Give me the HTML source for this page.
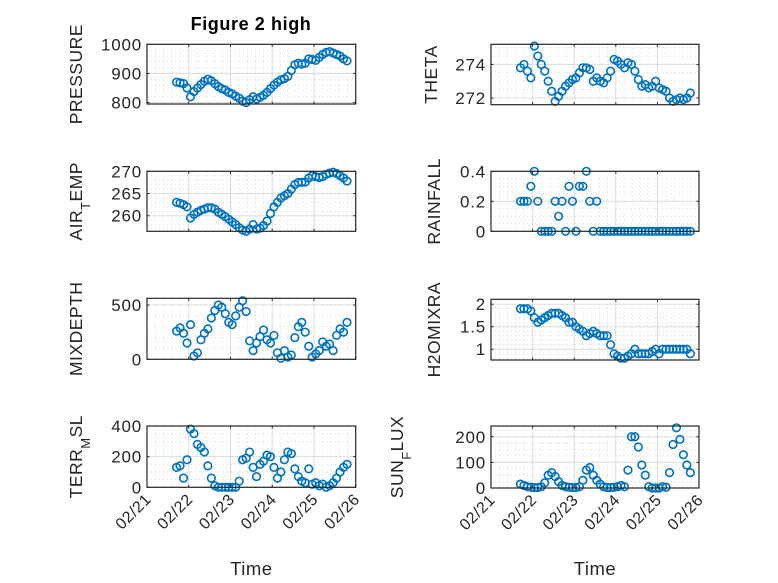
<!DOCTYPE html>
<html><head><meta charset="utf-8"><style>
html,body{margin:0;padding:0;background:#fff;}
svg{display:block;font-family:"Liberation Sans","DejaVu Sans",sans-serif;}
</style></head><body>
<svg id="fig" width="778" height="583" viewBox="0 0 778 583"></svg>
<script>
const hours = [17,19,21,23,25,27,29,31,33,35,37,39,41,43,45,47,49,51,53,55,57,59,61,63,65,67,69,71,73,75,77,79,81,83,85,87,89,91,93,95,97,99,101,103,105,107,109,111,113,115];
const pressure = [870,868,865,850,820,838,850,862,873,880,875,865,855,848,843,835,830,822,815,805,800,810,820,812,818,825,835,848,860,870,878,882,890,910,930,935,932,935,950,948,945,955,965,972,975,970,965,960,950,943];
const airTemp = [263,262.8,262.5,262,259.5,260.3,260.8,261.2,261.5,261.8,261.8,261.5,260.8,260.3,259.8,259.2,258.6,258,257.3,256.8,256.5,257,258,257,257.2,257.8,258.8,260.5,262,263,264,264.5,265,266,267,267.5,267.5,267.6,268.5,269,268.8,268.6,268.8,269.3,269.6,269.8,269.5,269,268.5,267.8];
const mixDepth = [260,290,240,150,320,30,60,180,240,280,380,450,500,480,420,340,320,400,480,540,440,170,80,150,210,270,180,150,220,60,10,80,20,40,200,300,340,250,120,20,50,80,160,120,140,80,220,280,250,340];
const terrMsl = [130,140,60,180,380,350,280,260,230,140,60,10,0,0,0,0,0,0,40,180,190,230,130,70,150,170,210,200,130,60,100,180,230,220,120,70,40,30,120,20,30,10,20,0,10,30,60,100,130,150];
const theta = [273.8,274.0,273.6,273.2,275.1,274.5,274.0,273.6,273.0,272.4,271.8,272.1,272.4,272.7,272.9,273.1,273.2,273.5,273.8,273.8,273.7,273.0,273.2,273.0,272.9,273.2,273.6,274.3,274.2,274.0,273.8,274.1,274.0,273.6,273.1,272.7,272.8,272.6,272.7,273.0,272.6,272.5,272.4,272.0,271.8,271.9,272.0,271.9,272.0,272.3];
const rainfall = [0.2,0.2,0.2,0.3,0.4,0.2,0,0,0,0,0.2,0.1,0.2,0,0.3,0.2,0,0.3,0.3,0.4,0.2,0,0.2,0,0,0,0,0,0,0,0,0,0,0,0,0,0,0,0,0,0,0,0,0,0,0,0,0,0,0];
const h2oMix = [1.9,1.9,1.9,1.85,1.7,1.6,1.65,1.7,1.75,1.8,1.8,1.8,1.75,1.7,1.6,1.6,1.5,1.45,1.4,1.3,1.35,1.4,1.35,1.3,1.3,1.3,1.1,0.9,0.85,0.8,0.8,0.85,0.9,1.0,0.9,0.9,0.9,0.9,0.95,1.0,0.9,1.0,1.0,1.0,1.0,1.0,1.0,1.0,1.0,0.9];
const sunFlux = [15,10,5,3,2,2,5,20,50,60,45,25,10,5,3,2,2,5,30,70,80,50,30,15,5,2,2,3,5,10,5,70,200,200,160,90,50,5,0,0,0,5,3,60,170,235,190,130,90,60];
const xTickLabels = ["02/21","02/22","02/23","02/24","02/25","02/26"];
const pressureTicks = [800,900,1000];
const airTempTicks = [260,265,270];
const mixDepthTicks = [0,500];
const terrMslTicks = [0,200,400];
const thetaTicks = [272,274];
const rainfallTicks = [0,0.2,0.4];
const h2oMixTicks = [1,1.5,2];
const sunFluxTicks = [0,100,200];

const NS="http://www.w3.org/2000/svg";
const svg=document.getElementById('fig');
function mk(tag,attrs,parent){const e=document.createElementNS(NS,tag);for(const k in attrs)e.setAttribute(k,attrs[k]);(parent||svg).appendChild(e);return e;}

const panels=[
 {key:'pressure',data:pressure,ticks:pressureTicks,ylim:[795,1000],minor:20,x0:147,x1:355.7,y0:44.3,y1:104,label:[['PRESSURE']],lx:82},
 {key:'air-temp',data:airTemp,ticks:airTempTicks,ylim:[256.5,270],minor:1,x0:147,x1:355.7,y0:171.3,y1:231.3,label:[['AIR'],['T','sub'],['EMP']],lx:82},
 {key:'mixdepth',data:mixDepth,ticks:mixDepthTicks,ylim:[0,562],minor:100,x0:147,x1:355.7,y0:298.3,y1:359.3,label:[['MIXDEPTH']],lx:82},
 {key:'terr-msl',data:terrMsl,ticks:terrMslTicks,ylim:[0,400],minor:50,x0:147,x1:355.7,y0:426,y1:487.3,label:[['TERR'],['M','sub'],['SL']],lx:82,xt:true},
 {key:'theta',data:theta,ticks:thetaTicks,ylim:[271.6,275.2],minor:0.5,x0:491,x1:699,y0:44.3,y1:104.7,label:[['THETA']],lx:437},
 {key:'rainfall',data:rainfall,ticks:rainfallTicks,ylim:[0,0.4],minor:0.05,x0:491,x1:699,y0:171.3,y1:231.3,label:[['RAINFALL']],lx:440},
 {key:'h2omixra',data:h2oMix,ticks:h2oMixTicks,ylim:[0.76,2.11],minor:0.1,x0:491,x1:699,y0:299.3,y1:360,label:[['H2OMIXRA']],lx:440},
 {key:'sun-flux',data:sunFlux,ticks:sunFluxTicks,ylim:[0,242],minor:25,x0:491,x1:699,y0:426,y1:488,label:[['SUN'],['F','sub'],['LUX']],lx:403,xt:true}
];

panels.forEach(p=>{
  const g=mk('g',{});
  
  
  const xs=d=>p.x0+(d/5)*(p.x1-p.x0);
  const ys=v=>p.y1-(v-p.ylim[0])/(p.ylim[1]-p.ylim[0])*(p.y1-p.y0);
  mk('rect',{x:p.x0,y:p.y0,width:p.x1-p.x0,height:p.y1-p.y0,fill:'#fff'},g);
  for(let i=1;i<25;i++){ if(i%5===0)continue; const x=xs(i/5);
    mk('line',{x1:x,x2:x,y1:p.y0,y2:p.y1,stroke:'#c8c8c8','stroke-width':0.6,'stroke-dasharray':'1,3'},g);}
  let start=Math.ceil(p.ylim[0]/p.minor)*p.minor;
  for(let v=start;v<=p.ylim[1]+1e-9;v+=p.minor){ const y=ys(v);
    mk('line',{x1:p.x0,x2:p.x1,y1:y,y2:y,stroke:'#c8c8c8','stroke-width':0.6,'stroke-dasharray':'1,3'},g);}
  for(let i=1;i<5;i++){const x=xs(i);mk('line',{x1:x,x2:x,y1:p.y0,y2:p.y1,stroke:'#dcdcdc','stroke-width':1},g);}
  p.ticks.forEach(v=>{const y=ys(v);mk('line',{x1:p.x0,x2:p.x1,y1:y,y2:y,stroke:'#dcdcdc','stroke-width':1},g);});
  p.data.forEach((v,i)=>{
    const c=mk('circle',{cx:xs(hours[i]/24),cy:ys(v),r:3.8,fill:'none',stroke:'#0072BD','stroke-width':1.6},g);
    
    
  });
  const box=mk('rect',{x:p.x0,y:p.y0,width:p.x1-p.x0,height:p.y1-p.y0,fill:'none',stroke:'#262626','stroke-width':1.2},g);
  
  
  for(let i=0;i<=5;i++){const x=xs(i);
    mk('line',{x1:x,x2:x,y1:p.y1,y2:p.y1-2.5,stroke:'#262626'},g);
    mk('line',{x1:x,x2:x,y1:p.y0,y2:p.y0+2.5,stroke:'#262626'},g);
    if(p.xt){
      const t=mk('text',{x:x+5,y:p.y1+13,'font-size':16,'letter-spacing':0.5,fill:'#262626','text-anchor':'end',transform:`rotate(-45 ${x+5} ${p.y1+13})`},g);
      t.textContent=xTickLabels[i];
      
      
    }}
  p.ticks.forEach(v=>{const y=ys(v);
    mk('line',{x1:p.x0,x2:p.x0+2.5,y1:y,y2:y,stroke:'#262626'},g);
    mk('line',{x1:p.x1,x2:p.x1-2.5,y1:y,y2:y,stroke:'#262626'},g);
    const t=mk('text',{x:p.x0-5,y:y+6,'font-size':17,'letter-spacing':0.8,fill:'#262626','text-anchor':'end'},g);
    t.textContent=String(v);
    
    
  });
  const cy=(p.y0+p.y1)/2;
  const lab=mk('text',{x:p.lx,y:cy,'font-size':17.5,'letter-spacing':0.5,fill:'#262626','text-anchor':'middle',transform:`rotate(-90 ${p.lx} ${cy})`},g);
  
  
  p.label.forEach(([s,mode])=>{
    const ts=mk('tspan',mode==='sub'?{'baseline-shift':'sub','font-size':13}:{},lab);
    ts.textContent=s;
  });
  if(p.xt){
    const xt=mk('text',{x:(p.x0+p.x1)/2,y:575,'font-size':18.5,'letter-spacing':0.5,fill:'#262626','text-anchor':'middle'},g);
    xt.textContent='Time';
    
    
  }
});
const title=mk('text',{x:251,y:30,'font-size':18,'font-weight':'bold','letter-spacing':0.6,fill:'#000','text-anchor':'middle'});
title.textContent='Figure 2 high';


</script>
</body></html>
